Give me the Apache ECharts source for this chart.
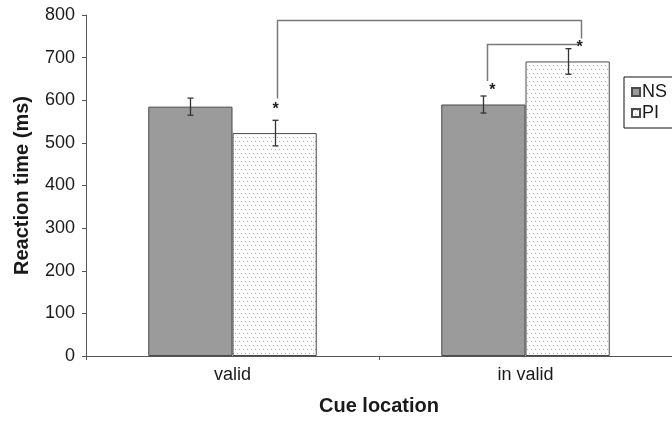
<!DOCTYPE html>
<html><head><meta charset="utf-8">
<script src="https://cdn.jsdelivr.net/npm/echarts@6/dist/echarts.min.js"></script>
<style>html,body{margin:0;padding:0;background:#fff}#c{width:672px;height:421px}</style>
</head><body><div id="c"></div>
<script>
var categories = ['valid', 'in valid'];
var seriesNames = ['NS', 'PI'];
var nsValues = [585, 590];
var piValues = [523, 691];
var nsErrors = [20, 20];
var piErrors = [30, 30];
var yTicks = [0, 100, 200, 300, 400, 500, 600, 700, 800];
// significance brackets: [fromCat, fromSeries, toCat, toSeries, topValue, fromEndValue, toEndValue]
var brackets = [
  [0, 1, 1, 1, 788, 604, 745],
  [1, 0, 1, 1, 731, 645, 731]
];
// stars: [cat, series, value]
var stars = [
  [0, 1, 588],
  [1, 0, 631],
  [1, 1, 733]
];

var FONT = '"Liberation Sans", Arial, sans-serif';
var TXT = '#1a1a1a';
var LINE = '#555';

// dotted pattern
var pat = document.createElement('canvas');
pat.width = 8; pat.height = 8;
var pc = pat.getContext('2d');
pc.fillStyle = '#fff'; pc.fillRect(0, 0, 8, 8);
pc.fillStyle = '#a8a8a8';
pc.fillRect(1, 1, 1, 1); pc.fillRect(5, 1, 1, 1);
pc.fillRect(3, 5, 1, 1); pc.fillRect(7, 5, 1, 1);

var BAR_FRAC = 0.2875; // bar width fraction of band
function barCenter(api, cat, s, v) {
  var band = api.size([1, 0])[0];
  var p = api.coord([cat, v]);
  var off = (s === 0 ? -1 : 1) * band * BAR_FRAC / 2;
  return [p[0] + off, p[1]];
}

var errData = [];
for (var i = 0; i < categories.length; i++) {
  errData.push([i, nsValues[i], nsErrors[i], 0]);
  errData.push([i, piValues[i], piErrors[i], 1]);
}

var bracketNudge = [[2.5, 13], [4, 9]];
var starNudge = [1, 9, 12];

var chart = echarts.init(document.getElementById('c'), null, {renderer: 'canvas'});
chart.setOption({
  animation: false,
  backgroundColor: '#fff',
  textStyle: {fontFamily: FONT},
  grid: {left: 86, right: 0, top: 15, bottom: 58, containLabel: false},
  legend: {
    orient: 'vertical', left: 624, top: 77,
    data: seriesNames,
    itemWidth: 8, itemHeight: 8, itemGap: 3,
    padding: [6, 14, 6, 7],
    borderColor: '#111', borderWidth: 1,
    icon: 'rect',
    textStyle: {fontFamily: FONT, fontSize: 18, color: TXT, padding: [0, 0, 0, -3]}
  },
  xAxis: [{
    type: 'category', data: categories,
    name: 'Cue location', nameLocation: 'middle', nameGap: 40,
    nameTextStyle: {fontFamily: FONT, fontSize: 20, fontWeight: 'bold', color: TXT},
    axisLine: {lineStyle: {color: LINE, width: 1}},
    axisTick: {show: true, length: 4, lineStyle: {color: LINE}},
    axisLabel: {fontFamily: FONT, fontSize: 18, color: TXT, margin: 10}
  }],
  yAxis: [{
    type: 'value', min: 0, max: 800, interval: 100,
    name: 'Reaction time (ms)', nameLocation: 'middle', nameGap: 54,
    nameTextStyle: {fontFamily: FONT, fontSize: 20, fontWeight: 'bold', color: TXT},
    axisLine: {show: true, lineStyle: {color: LINE, width: 1}},
    axisTick: {show: true, length: 4, lineStyle: {color: LINE}},
    splitLine: {show: false},
    axisLabel: {fontFamily: FONT, fontSize: 18, color: TXT, margin: 11,
      formatter: function (v) { return yTicks.indexOf(v) >= 0 ? String(v) : ''; }}
  }],
  series: [
    {
      name: 'NS', type: 'bar', data: nsValues,
      barWidth: (BAR_FRAC * 100) + '%', barGap: '0%',
      itemStyle: {color: '#9b9b9b', borderColor: '#4a4a4a', borderWidth: 1}
    },
    {
      name: 'PI', type: 'bar', data: piValues,
      barWidth: (BAR_FRAC * 100) + '%', barGap: '0%',
      itemStyle: {color: {image: pat, repeat: 'repeat'}, borderColor: '#4a4a4a', borderWidth: 1}
    },
    {
      type: 'custom', silent: true, z: 5,
      data: errData,
      renderItem: function (params, api) {
        var cat = api.value(0), v = api.value(1), e = api.value(2), s = api.value(3);
        var top = barCenter(api, cat, s, v + e);
        var bot = barCenter(api, cat, s, v - e);
        var x = Math.round(top[0]) + 0.5;
        var cw = 3;
        var st = {stroke: '#333', lineWidth: 1.3, fill: null};
        return {type: 'group', children: [
          {type: 'line', shape: {x1: x, y1: top[1], x2: x, y2: bot[1]}, style: st},
          {type: 'line', shape: {x1: x - cw, y1: top[1], x2: x + cw, y2: top[1]}, style: st},
          {type: 'line', shape: {x1: x - cw, y1: bot[1], x2: x + cw, y2: bot[1]}, style: st}
        ]};
      }
    },
    {
      type: 'custom', silent: true, z: 5,
      data: brackets,
      renderItem: function (params, api) {
        var i = params.dataIndex;
        var b = brackets[i];
        var n = bracketNudge[i];
        var a = barCenter(api, b[0], b[1], b[5]);
        var at = barCenter(api, b[0], b[1], b[4]);
        var c = barCenter(api, b[2], b[3], b[6]);
        var ax = Math.round(a[0] + n[0]) + 0.5;
        var cx = Math.round(c[0] + n[1]) + 0.5;
        var ty = Math.round(at[1]) + 0.5;
        return {type: 'polyline', shape: {points: [[ax, a[1]], [ax, ty], [cx, ty], [cx, c[1]]]},
          style: {stroke: '#7a7a7a', lineWidth: 1.5, fill: null}};
      }
    },
    {
      type: 'custom', silent: true, z: 6,
      data: stars,
      renderItem: function (params, api) {
        var i = params.dataIndex;
        var s = stars[i];
        var p = barCenter(api, s[0], s[1], s[2]);
        return {type: 'text', x: p[0] + starNudge[i], y: p[1] + 4,
          style: {text: '*', fontFamily: FONT, fontSize: 16, fontWeight: 'bold', fill: '#222', align: 'center', verticalAlign: 'middle'}};
      }
    }
  ]
});
</script></body></html>
